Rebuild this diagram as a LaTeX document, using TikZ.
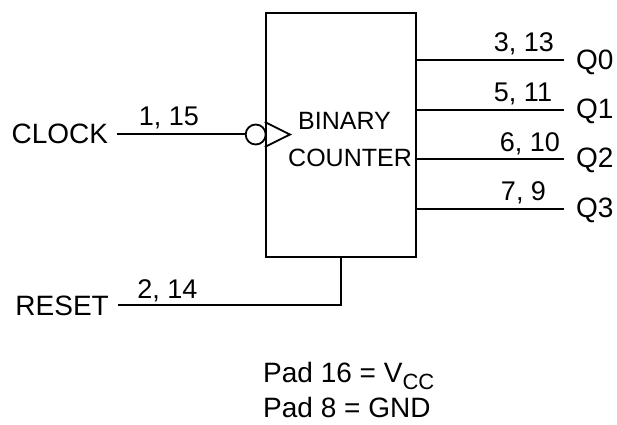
\documentclass[tikz,border=0pt]{standalone}
\usepackage{fontspec}
\setmainfont{Liberation Sans}
\begin{document}
\begin{tikzpicture}[x=1pt,y=-1pt,
  wire/.style={line width=1.8pt},
  sigtext/.style={inner sep=0pt,font=\fontsize{28}{30}\selectfont},
  pintext/.style={inner sep=0pt,font=\fontsize{27}{29}\selectfont},
  boxtext/.style={inner sep=0pt,font=\fontsize{25}{27}\selectfont}]
\useasboundingbox (0,0) rectangle (617,424);
% block
\node[draw,line width=1.8pt,minimum width=150pt,minimum height=244.6pt,inner sep=0pt] (box) at (340.7,135) {};
\node[boxtext,anchor=base] (binary) at (344.5,129) {BINARY};
\node[boxtext,anchor=base] (counter) at (350,166) {COUNTER};
% clock input
\node[sigtext,anchor=base east] (clock) at (108.3,143.3) {CLOCK};
\coordinate (clkin) at (117,134);
\node[draw,circle,line width=1.8pt,minimum size=20pt,inner sep=0pt] (bubble) at (255.7,134.5) {};
\draw[wire] (clkin) -- (clkin -| bubble.west);
\draw[wire,line join=miter] ([yshift=-12.5pt]box.west |- bubble) -- (290,134.5) -- ([yshift=12.5pt]box.west |- bubble);
\node[pintext,anchor=base] (l115) at (169,125) {1, 15};
% reset
\node[sigtext,anchor=base east] (reset) at (109,315) {RESET};
\coordinate (rst) at (118,305);
\draw[wire] (box.south) |- (rst);
\node[pintext,anchor=base] (l214) at (167.5,298) {2, 14};
% outputs
\coordinate (e0) at (564,60);
\coordinate (e1) at (564,110);
\coordinate (e2) at (564,159);
\coordinate (e3) at (564,209);
\draw[wire] (box.east |- e0) -- (e0);
\draw[wire] (box.east |- e1) -- (e1);
\draw[wire] (box.east |- e2) -- (e2);
\draw[wire] (box.east |- e3) -- (e3);
\node[sigtext,anchor=base west] (q0) at (576,69.3) {Q0};
\node[sigtext,anchor=base west] (q1) at (576,118.3) {Q1};
\node[sigtext,anchor=base west] (q2) at (576,167.7) {Q2};
\node[sigtext,anchor=base west] (q3) at (576,217.3) {Q3};
\node[pintext,anchor=base] (l313) at (524,51.7) {3, 13};
\node[pintext,anchor=base] (l511) at (523,101.7) {5, 11};
\node[pintext,anchor=base] (l610) at (530,151.7) {6, 10};
\node[pintext,anchor=base] (l79) at (523.5,200) {7, 9};
% pads
\node[sigtext,anchor=base west] (pad1) at (263,382.5) {Pad 16 = V\raisebox{-7pt}{\fontsize{22}{24}\selectfont CC}};
\node[sigtext,anchor=base west,text depth=0pt] (pad2) at (263,417.5) {Pad 8 = GND};
\end{tikzpicture}
\end{document}
